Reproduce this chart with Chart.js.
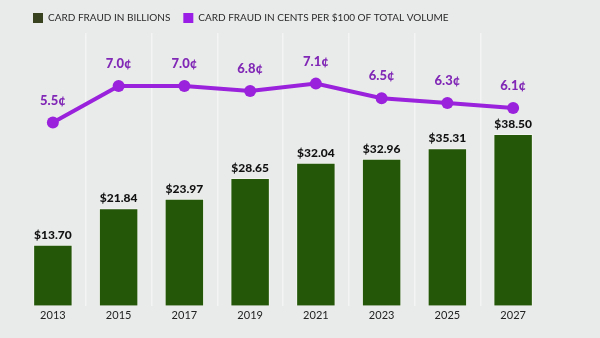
<!DOCTYPE html>
<html>
<head>
<meta charset="utf-8">
<script src="https://cdn.jsdelivr.net/npm/chart.js@4.4.1/dist/chart.umd.min.js"></script>
<style>
  html, body { margin: 0; padding: 0; background: #e9ebea; }
  #wrap { width: 600px; height: 338px; }
</style>
</head>
<body>
<div id="wrap"><canvas id="c" width="600" height="338"></canvas></div>
<script>
const years = ['2013', '2015', '2017', '2019', '2021', '2023', '2025', '2027'];
const fraudBillions = [13.70, 21.84, 23.97, 28.65, 32.04, 32.96, 35.31, 38.50];
const centsPer100 = [5.5, 7.0, 7.0, 6.8, 7.1, 6.5, 6.3, 6.1];

const GREEN = '#245708';
const PURPLE = '#9a22dc';
const LABEL_FONT = 'Lato, "DejaVu Sans", sans-serif';

// Value labels above each bar and each line point
const valueLabels = {
  id: 'valueLabels',
  afterDatasetsDraw(chart) {
    const ctx = chart.ctx;
    ctx.save();
    ctx.textAlign = 'center';
    ctx.textBaseline = 'middle';
    chart.getDatasetMeta(0).data.forEach((bar, i) => {
      ctx.fillStyle = '#111';
      ctx.font = '900 12px ' + LABEL_FONT;
      ctx.fillText('$' + fraudBillions[i].toFixed(2), bar.x, bar.y - 10);
    });
    chart.getDatasetMeta(1).data.forEach((pt, i) => {
      ctx.fillStyle = '#8128b6';
      ctx.font = '900 13px ' + LABEL_FONT;
      ctx.fillText(centsPer100[i].toFixed(1) + '\u00a2', pt.x, pt.y - 22);
    });
    ctx.restore();
  }
};

const legendSwatch = ['#39421f', '#9a1ee6'];

new Chart(document.getElementById('c'), {
  data: {
    labels: years,
    datasets: [
      {
        type: 'bar',
        label: 'CARD FRAUD IN BILLIONS',
        data: fraudBillions,
        backgroundColor: GREEN,
        borderColor: '#f2f4f0',
        borderWidth: 1,
        yAxisID: 'yBar',
        barPercentage: 0.6,
        categoryPercentage: 1.0,
        order: 2
      },
      {
        type: 'line',
        label: 'CARD FRAUD IN CENTS PER $100 OF TOTAL VOLUME',
        data: centsPer100,
        borderColor: PURPLE,
        backgroundColor: PURPLE,
        borderWidth: 4,
        pointRadius: 6,
        pointBackgroundColor: PURPLE,
        pointBorderWidth: 0,
        tension: 0,
        yAxisID: 'yLine',
        order: 1
      }
    ]
  },
  options: {
    responsive: false,
    animation: false,
    devicePixelRatio: 1,
    layout: { padding: { left: 20, right: 54, top: 0, bottom: 13 } },
    plugins: {
      tooltip: { enabled: false },
      legend: {
        position: 'top',
        align: 'start',
        labels: {
          boxWidth: 10,
          boxHeight: 10,
          padding: 13,
          color: '#2a2a2a',
          font: { family: LABEL_FONT, size: 10 },
          sort: (a, b) => a.datasetIndex - b.datasetIndex,
          generateLabels(chart) {
            const items = Chart.defaults.plugins.legend.labels.generateLabels(chart);
            items.forEach(it => {
              it.fillStyle = legendSwatch[it.datasetIndex];
              it.strokeStyle = legendSwatch[it.datasetIndex];
              it.lineWidth = 0;
            });
            return items;
          }
        }
      }
    },
    scales: {
      x: {
        offset: true,
        grid: {
          display: true,
          offset: true,
          drawTicks: false,
          lineWidth: 1.5,
          color: (c) => (c.index === 0 || c.index === undefined) ? 'rgba(0,0,0,0)' : '#f3f4f3'
        },
        border: { display: false },
        ticks: { color: '#222', padding: 3, font: { family: LABEL_FONT, size: 11 } }
      },
      yBar: {
        display: false,
        min: 0,
        max: 61.1
      },
      yLine: {
        display: false,
        min: -2.03,
        max: 9.18
      }
    }
  },
  plugins: [valueLabels]
});
</script>
</body>
</html>
